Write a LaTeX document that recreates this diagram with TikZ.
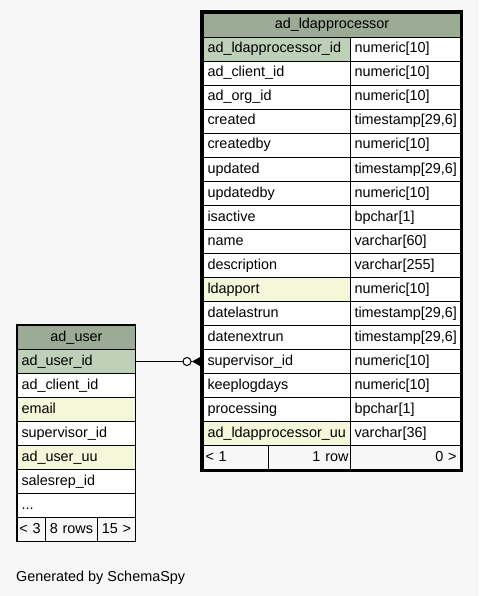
\documentclass[tikz,border=0pt]{standalone}
\usepackage{fontspec}
\setmainfont{Liberation Sans}
\definecolor{hdr}{HTML}{9BAB96}
\definecolor{pk}{HTML}{BED1B8}
\definecolor{idx}{HTML}{F4F7DA}
\definecolor{bg}{HTML}{F7F7F7}
\begin{document}
\begin{tikzpicture}[x=1pt,y=-1pt,
  cell/.style={draw=black, line width=1pt, minimum height=24pt, inner ysep=0pt, inner xsep=4pt,
    anchor=north west, font=\fontsize{14.4}{16}\selectfont, text height=10pt, text depth=3pt},
  lcol/.style={cell, text width=139pt, align=left},
  rcol/.style={cell, text width=102pt, align=left, fill=white},
  ucol/.style={cell, text width=110pt, align=left},
  hcell/.style={cell, fill=hdr, align=center},
  fcell/.style={cell, fill=bg, inner xsep=2pt}]
\fill[bg] (0,0) rectangle (479,596);
\useasboundingbox (0,0) rectangle (479,596);
% ad_ldapprocessor
\node[hcell, text width=249pt] (lh) at (203,13) {ad\_ldapprocessor};
\foreach \n/\t/\c [count=\i] in {
  ad\_ldapprocessor\_id/{numeric[10]}/pk,
  ad\_client\_id/{numeric[10]}/white,
  ad\_org\_id/{numeric[10]}/white,
  created/{timestamp[29,6]}/white,
  createdby/{numeric[10]}/white,
  updated/{timestamp[29,6]}/white,
  updatedby/{numeric[10]}/white,
  isactive/{bpchar[1]}/white,
  name/{varchar[60]}/white,
  description/{varchar[255]}/white,
  ldapport/{numeric[10]}/idx,
  datelastrun/{timestamp[29,6]}/white,
  datenextrun/{timestamp[29,6]}/white,
  supervisor\_id/{numeric[10]}/white,
  keeplogdays/{numeric[10]}/white,
  processing/{bpchar[1]}/white,
  ad\_ldapprocessor\_uu/{varchar[36]}/idx}{
  \node[lcol, fill=\c] (l\i) at (203,13+24*\i) {\n};
  \node[rcol] (r\i) at (350,13+24*\i) {\t};
}
\node[fcell, text width=61pt, align=left] (lf1) at (203,445) {< 1};
\node[fcell, text width=78pt, align=right] (lf2) at (268,445) {1 row};
\node[fcell, inner xsep=4pt, text width=102pt, align=right] (lf3) at (350,445) {0 >};
\draw[line width=3pt] (201.5,11.5) rectangle (461.5,470.5);
% ad_user
\node[hcell, text width=110pt] (uh) at (17,325) {ad\_user};
\foreach \n/\c [count=\i] in {
  ad\_user\_id/pk,
  ad\_client\_id/white,
  email/idx,
  supervisor\_id/white,
  ad\_user\_uu/idx,
  salesrep\_id/white}{
  \node[ucol, fill=\c] (u\i) at (17,325+24*\i) {\n};
}
\node[ucol, fill=white] (u7) at (17,493) {.{}.{}.};
\node[fcell, text width=24pt, align=left] (uf1) at (17,517) {< 3};
\node[fcell, text width=48pt, align=center] (uf2) at (45,517) {8 rows};
\node[fcell, text width=34pt, align=center] (uf3) at (97,517) {15 >};
\draw[line width=1pt] (16.5,324.5) rectangle (135.5,541.5);
% relationship
\coordinate (cc) at ([xshift=-16pt]l14.west);
\draw[line width=1pt] (u1.east) -- ([xshift=-4pt]cc);
\draw[line width=1pt, fill=white] (cc) circle (4pt);
\fill[black] ([xshift=-11pt]l14.west) -- ([xshift=-2pt,yshift=-5pt]l14.west) -- ([xshift=-2pt,yshift=5pt]l14.west) -- cycle;
\draw[line width=1pt] ([xshift=4pt]cc) -- ([xshift=-11pt]l14.west);
\node[anchor=base west, inner sep=0pt, font=\fontsize{14.4}{16}\selectfont] (gen) at (16,581) {Generated by SchemaSpy};
\end{tikzpicture}
\end{document}
